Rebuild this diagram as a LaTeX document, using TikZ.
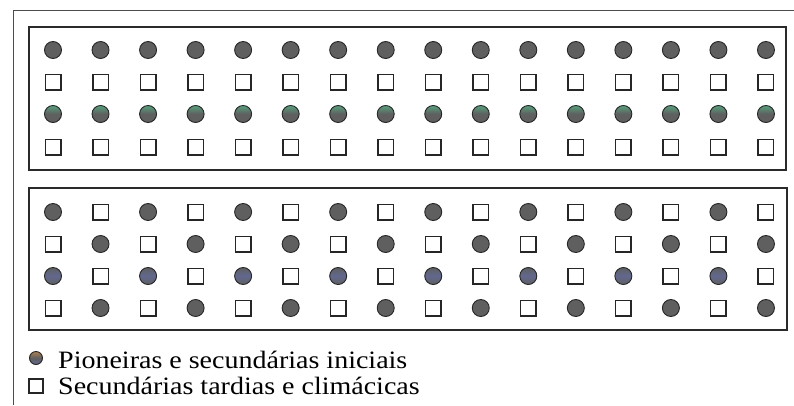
\documentclass[tikz,border=0pt]{standalone}
\usepackage{fontspec}
\setmainfont{Liberation Serif}
\definecolor{dotgray}{HTML}{5E5F5E}
\definecolor{dotgreen}{HTML}{58A07E}
\definecolor{dotblue}{HTML}{626890}
\definecolor{framegray}{HTML}{2A2A2A}
\begin{document}
\begin{tikzpicture}[x=1pt,y=-1pt,
  dot/.style={circle, draw=black!85, line width=0.9pt, fill=dotgray, minimum size=17pt, inner sep=0pt},
  dotg/.style={dot, top color=dotgreen, bottom color=dotgray, middle color=dotgray},
  dotb/.style={dot, top color=dotgray, bottom color=dotgray, middle color=dotblue},
  sq/.style={rectangle, draw=black!85, line width=1.5pt, fill=white, minimum size=15.5pt, inner sep=0pt},
  frame/.style={draw=framegray, line width=1.5pt},
  outer/.style={draw=black!70, line width=1pt},
  legtext/.style={anchor=base west, inner sep=0pt, font=\fontsize{25}{25}\selectfont}]
\useasboundingbox (0,0) rectangle (794,405);
\draw[outer] (13,405) -- (13,10) -- (794,10);
\draw[frame] (29,27) rectangle (786,170);
\draw[frame] (29,188) rectangle (787,330);
\foreach \i in {0,...,15} {
  \pgfmathsetmacro\x{53+47.53*\i}
  \node[dot] (a1-\i) at (\x,50) {};
  \node[sq] (a2-\i) at (\x,82) {};
  \node[dotg] (a3-\i) at (\x,114) {};
  \node[sq] (a4-\i) at (\x,147) {};
  \ifodd\i
    \node[sq] (b1-\i) at (\x,212) {};
    \node[dot] (b2-\i) at (\x,244) {};
    \node[sq] (b3-\i) at (\x,276) {};
    \node[dot] (b4-\i) at (\x,308) {};
  \else
    \node[dot] (b1-\i) at (\x,212) {};
    \node[sq] (b2-\i) at (\x,244) {};
    \node[dotb] (b3-\i) at (\x,276) {};
    \node[sq] (b4-\i) at (\x,308) {};
  \fi
}
\node[dot, minimum size=13pt, top color=brown!70!gray, bottom color=dotblue, middle color=dotgray] (l1) at (36,358) {};
\node[legtext] (t1) at (58,368) {\scalebox{1.12}[1]{Pioneiras e secundárias iniciais}};
\node[sq, minimum size=14pt, line width=1.2pt] (l2) at (36,386) {};
\node[legtext] (t2) at (58,394) {\scalebox{1.12}[1]{Secundárias tardias e climácicas}};
\end{tikzpicture}
\end{document}
